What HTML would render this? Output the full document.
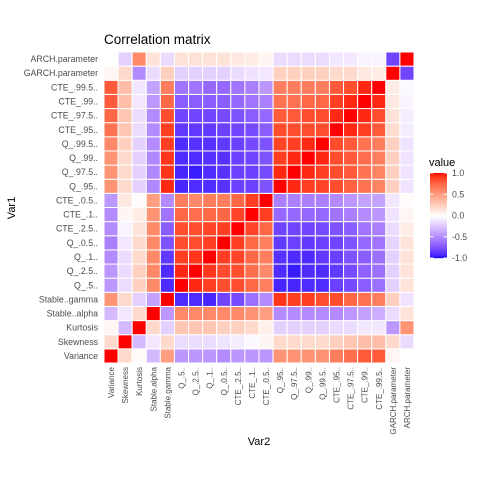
<!DOCTYPE html>
<html><head><meta charset="utf-8"><style>
body{margin:0;background:#fff;font-family:"Liberation Sans",sans-serif;}
svg text{font-family:"Liberation Sans",sans-serif;}
</style></head><body>
<svg id="chart" width="480" height="480" viewBox="0 0 480 480">
<rect width="480" height="480" fill="#fff"/>
<text x="104" y="44" font-size="13.5" fill="#000">Correlation matrix</text>
<g id="cells"></g><g id="ylabels"></g><g id="xlabels"></g>
<text x="259" y="445" font-size="11" text-anchor="middle" fill="#000">Var2</text>
<text transform="translate(15,208) rotate(-90)" font-size="11" text-anchor="middle" fill="#000">Var1</text>
<text x="429" y="166" font-size="11" fill="#000">value</text>
<defs><linearGradient id="lg" x1="0" y1="0" x2="0" y2="1" id2="x"></linearGradient></defs>
<g id="legend"></g>
</svg>
<script>
const vars=["Variance","Skewness","Kurtosis","Stable..alpha","Stable..gamma","Q_.5..","Q_.2.5..","Q_.1..","Q_.0.5..","CTE_.2.5..","CTE_.1..","CTE_.0.5..","Q_.95..","Q_.97.5..","Q_.99..","Q_.99.5..","CTE_.95..","CTE_.97.5..","CTE_.99..","CTE_.99.5..","GARCH.parameter","ARCH.parameter"];
const xTickLabels=["Variance","Skewness","Kurtosis","Stable.alpha","Stable.gamma","Q_.5..","Q_.2.5..","Q_.1..","Q_.0.5..","CTE_.2.5..","CTE_.1..","CTE_.0.5..","Q_.95..","Q_.97.5..","Q_.99..","Q_.99.5..","CTE_.95..","CTE_.97.5..","CTE_.99..","CTE_.99.5..","GARCH.parameter","ARCH.parameter"];
const legendTicks=[1.0,0.5,0.0,-0.5,-1.0];
const legendTickLabels=["1.0","0.5","0.0","-0.5","-1.0"];
// rows indexed by Var1 (0 = Variance ... 21 = ARCH), columns by Var2
const rowVariance=[1,0.2,0.03,-0.3,0.5,-0.45,-0.45,-0.45,-0.5,-0.45,-0.45,-0.45,0.55,0.55,0.55,0.55,0.65,0.72,0.8,0.8,0.05,0.0];
const rowSkewness=[0.2,1,-0.3,-0.1,0.2,-0.15,-0.15,-0.15,-0.12,-0.08,-0.03,0.05,0.2,0.2,0.2,0.2,0.25,0.3,0.35,0.35,0.2,-0.15];
const rowKurtosis=[0.05,-0.3,1,0.2,-0.2,0.3,0.3,0.3,0.25,0.25,0.2,0.08,-0.2,-0.2,-0.2,-0.2,-0.15,-0.15,-0.1,-0.1,-0.45,0.55];
const rowAlpha=[-0.3,-0.1,0.2,1,-0.45,0.6,0.6,0.6,0.6,0.6,0.55,0.5,-0.5,-0.5,-0.5,-0.5,-0.5,-0.45,-0.4,-0.35,-0.15,0.15];
const rowGamma=[0.55,0.2,-0.2,-0.4,1,-0.9,-0.9,-0.92,-0.8,-0.78,-0.62,-0.5,0.92,0.9,0.9,0.85,0.85,0.75,0.7,0.65,0.25,-0.12];
const rowQ5=[-0.45,-0.15,0.25,0.6,-0.9,1,0.95,0.9,0.85,0.85,0.75,0.65,-0.92,-0.92,-0.9,-0.9,-0.82,-0.78,-0.7,-0.62,-0.2,0.15];
const rowQ2_5=[-0.45,-0.15,0.25,0.6,-0.9,0.95,1,0.92,0.85,0.85,0.72,0.6,-0.9,-0.95,-0.9,-0.9,-0.85,-0.78,-0.68,-0.62,-0.2,0.15];
const rowQ1=[-0.5,-0.15,0.2,0.6,-0.85,0.9,0.92,1,0.9,0.88,0.75,0.65,-0.88,-0.9,-0.9,-0.85,-0.82,-0.75,-0.7,-0.62,-0.2,0.15];
const rowQ0_5=[-0.55,-0.1,0.2,0.6,-0.75,0.85,0.85,0.9,1,0.9,0.75,0.65,-0.85,-0.82,-0.85,-0.82,-0.8,-0.75,-0.65,-0.6,-0.18,0.15];
const rowC2_5=[-0.5,-0.05,0.15,0.6,-0.7,0.85,0.85,0.88,0.9,1,0.88,0.75,-0.8,-0.8,-0.8,-0.78,-0.75,-0.7,-0.6,-0.55,-0.15,0.1];
const rowC1=[-0.5,0.05,0.1,0.55,-0.6,0.75,0.72,0.75,0.75,0.88,1,0.9,-0.65,-0.65,-0.65,-0.65,-0.6,-0.55,-0.5,-0.45,-0.12,0.05];
const rowC0_5=[-0.45,0.12,0.02,0.5,-0.5,0.65,0.6,0.65,0.65,0.75,0.9,1,-0.55,-0.55,-0.55,-0.55,-0.5,-0.45,-0.4,-0.4,-0.1,0.02];
const rowQ95=[0.55,0.2,-0.2,-0.52,0.95,-0.92,-0.9,-0.9,-0.88,-0.82,-0.82,-0.75,1,0.95,0.9,0.88,0.85,0.78,0.7,0.62,0.25,-0.12];
const rowQ97_5=[0.55,0.2,-0.2,-0.52,0.92,-0.92,-0.95,-0.9,-0.88,-0.82,-0.82,-0.78,0.95,1,0.95,0.9,0.85,0.8,0.7,0.62,0.25,-0.12];
const rowQ99=[0.55,0.2,-0.2,-0.52,0.92,-0.9,-0.9,-0.88,-0.88,-0.82,-0.8,-0.75,0.9,0.95,1,0.95,0.85,0.8,0.72,0.65,0.25,-0.12];
const rowQ99_5=[0.6,0.25,-0.2,-0.5,0.9,-0.9,-0.88,-0.88,-0.85,-0.82,-0.78,-0.75,0.88,0.9,0.95,1,0.85,0.8,0.7,0.65,0.25,-0.12];
const rowC95=[0.7,0.3,-0.15,-0.5,0.9,-0.85,-0.85,-0.85,-0.82,-0.8,-0.78,-0.7,0.85,0.85,0.85,0.85,1,0.95,0.9,0.8,0.18,-0.08];
const rowC97_5=[0.75,0.3,-0.15,-0.5,0.85,-0.8,-0.8,-0.8,-0.78,-0.75,-0.7,-0.65,0.8,0.8,0.85,0.85,0.95,1,0.95,0.85,0.15,-0.08];
const rowC99=[0.8,0.35,-0.1,-0.45,0.75,-0.7,-0.7,-0.7,-0.7,-0.65,-0.6,-0.55,0.7,0.7,0.75,0.75,0.9,0.95,1,0.95,0.12,-0.05];
const rowC99_5=[0.8,0.35,-0.1,-0.4,0.65,-0.6,-0.6,-0.65,-0.65,-0.6,-0.55,-0.45,0.65,0.65,0.65,0.65,0.8,0.85,0.95,1,0.1,-0.03];
const rowGARCH=[0.05,0.2,-0.5,-0.15,0.25,-0.2,-0.2,-0.2,-0.2,-0.15,-0.12,-0.1,0.25,0.25,0.25,0.25,0.2,0.2,0.12,0.1,1,-0.8];
const rowARCH=[0.0,-0.2,0.6,0.15,-0.15,0.15,0.15,0.15,0.15,0.12,0.1,0.05,-0.15,-0.15,-0.15,-0.15,-0.1,-0.1,-0.05,-0.05,-0.8,1];
const matrix=[rowVariance,rowSkewness,rowKurtosis,rowAlpha,rowGamma,rowQ5,rowQ2_5,rowQ1,rowQ0_5,rowC2_5,rowC1,rowC0_5,rowQ95,rowQ97_5,rowQ99,rowQ99_5,rowC95,rowC97_5,rowC99,rowC99_5,rowGARCH,rowARCH];

const NS="http://www.w3.org/2000/svg";
const X0=104,X1=414,Y0=52,Y1=363,n=vars.length;
const cw=(X1-X0)/n,ch=(Y1-Y0)/n;
const xPos=i=>X0+i*cw;
const yPos=j=>Y1-(j+1)*ch;
// Lab interpolation like ggplot gradient2
function s2l(c){c/=255;return c<=0.04045?c/12.92:Math.pow((c+0.055)/1.055,2.4);}
function l2s(c){c=c<=0.0031308?12.92*c:1.055*Math.pow(c,1/2.4)-0.055;return Math.max(0,Math.min(255,Math.round(c*255)));}
function toLab(r,g,b){r=s2l(r);g=s2l(g);b=s2l(b);
let x=(0.4124*r+0.3576*g+0.1805*b)/0.95047,y=0.2126*r+0.7152*g+0.0722*b,z=(0.0193*r+0.1192*g+0.9505*b)/1.08883;
const f=t=>t>0.008856?Math.cbrt(t):7.787*t+16/116;return [116*f(y)-16,500*(f(x)-f(y)),200*(f(y)-f(z))];}
function fromLab(L,a,b){let fy=(L+16)/116,fx=fy+a/500,fz=fy-b/200;
const fi=t=>t*t*t>0.008856?t*t*t:(t-16/116)/7.787;
let x=fi(fx)*0.95047,y=fi(fy),z=fi(fz)*1.08883;
let r=3.2406*x-1.5372*y-0.4986*z,g=-0.9689*x+1.8758*y+0.0415*z,bb=0.0557*x-0.2040*y+1.0570*z;
return `rgb(${l2s(r)},${l2s(g)},${l2s(bb)})`;}
const LB=toLab(0,0,255),LW=toLab(255,255,255),LR=toLab(255,0,0);
function color(v){v=Math.max(-1,Math.min(1,v));const t=Math.abs(v),e=v<0?LB:LR;
return fromLab(LW[0]+(e[0]-LW[0])*t,LW[1]+(e[1]-LW[1])*t,LW[2]+(e[2]-LW[2])*t);}

const cells=document.getElementById('cells');
for(let j=0;j<n;j++)for(let i=0;i<n;i++){
const r=document.createElementNS(NS,'rect');
r.setAttribute('x',xPos(i));r.setAttribute('y',yPos(j));r.setAttribute('width',cw);r.setAttribute('height',ch);
r.setAttribute('fill',color(matrix[j][i]));r.setAttribute('stroke','#fff');r.setAttribute('stroke-width','1');


cells.appendChild(r);}
const yl=document.getElementById('ylabels');
vars.forEach((v,j)=>{const t=document.createElementNS(NS,'text');
t.setAttribute('x',98);t.setAttribute('y',yPos(j)+ch/2+3);t.setAttribute('text-anchor','end');t.setAttribute('font-size','8.8');t.setAttribute('fill','#4d4d4d');
t.textContent=v;


yl.appendChild(t);});
const xl=document.getElementById('xlabels');
xTickLabels.forEach((v,i)=>{const t=document.createElementNS(NS,'text');
const cx=xPos(i)+cw/2+3;
t.setAttribute('transform',`translate(${cx},367) rotate(-90)`);t.setAttribute('text-anchor','end');t.setAttribute('font-size','8');t.setAttribute('fill','#4d4d4d');
t.textContent=v;


xl.appendChild(t);});
// legend
const lg=document.getElementById('legend');
const LT=173,LBt=258,LX=430,LWd=17;
const ly=v=>LT+(1-v)/2*(LBt-LT);
for(let k=0;k<85;k++){const v=1-2*k/85;const r=document.createElementNS(NS,'rect');
r.setAttribute('x',LX);r.setAttribute('y',LT+k);r.setAttribute('width',LWd);r.setAttribute('height',1.2);r.setAttribute('fill',color(v));


lg.appendChild(r);}
legendTicks.forEach((v,k)=>{const y=ly(v);
const l1=document.createElementNS(NS,'line');l1.setAttribute('x1',LX);l1.setAttribute('x2',LX+3.4);l1.setAttribute('y1',y);l1.setAttribute('y2',y);l1.setAttribute('stroke','#fff');


lg.appendChild(l1);
const l2=document.createElementNS(NS,'line');l2.setAttribute('x1',LX+LWd-3.4);l2.setAttribute('x2',LX+LWd);l2.setAttribute('y1',y);l2.setAttribute('y2',y);l2.setAttribute('stroke','#fff');


lg.appendChild(l2);
const t=document.createElementNS(NS,'text');t.setAttribute('x',452);t.setAttribute('y',y+3.2);t.setAttribute('font-size','8.8');t.setAttribute('fill','#4d4d4d');
t.textContent=legendTickLabels[k];


lg.appendChild(t);});
</script>
</body></html>
